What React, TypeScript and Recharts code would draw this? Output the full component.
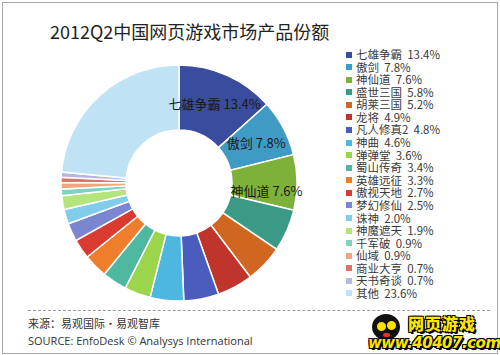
import React from 'react';
import { PieChart, Pie, Cell } from 'recharts';

const GAMES = [
  '七雄争霸', '傲剑', '神仙道', '盛世三国', '胡莱三国', '龙将', '凡人修真2', '神曲', '弹弹堂', '蜀山传奇',
  '英雄远征', '傲视天地', '梦幻修仙', '诛神', '神魔遮天', '千军破', '仙域', '商业大亨', '天书奇谈', '其他',
];

const SHARES = [13.4, 7.8, 7.6, 5.8, 5.2, 4.9, 4.8, 4.6, 3.6, 3.4, 3.3, 2.7, 2.5, 2.0, 1.9, 0.9, 0.9, 0.7, 0.7, 23.6];

const COLORS = [
  '#3a4c9e', '#3f9ac4', '#7db13a', '#3a9a86', '#d0661f', '#c0352b', '#4a5cbd', '#4db7e0', '#9bd54c', '#4fb8a0',
  '#ee7e2b', '#d93b31', '#7a86cf', '#80cdeb', '#b4e47c', '#80d2be', '#f3a47d', '#e3716b', '#b6b8df', '#bfe3f5',
];

// only the three biggest slices carry a label inside the ring
const LABELLED = 3;

const FONT = '"Noto Sans CJK SC", "Noto Sans", sans-serif';

const data = GAMES.map((name, i) => ({ name, value: SHARES[i] }));

const RADIAN = Math.PI / 180;

function renderLabel(props: any) {
  const { cx, cy, midAngle, innerRadius, outerRadius, index } = props;
  if (index >= LABELLED) return null;
  const r = (innerRadius + outerRadius) / 2 + 2;
  const x = cx + r * Math.cos(-midAngle * RADIAN);
  const y = cy + r * Math.sin(-midAngle * RADIAN) + (index === 2 ? 8 : 0);
  return (
    <text x={x} y={y} fill="#1a1a1a" fontSize={13} fontFamily={FONT} textAnchor="middle" dominantBaseline="central">
      {`${GAMES[index]}  ${SHARES[index].toFixed(1)}%`}
    </text>
  );
}

function Logo() {
  return (
    <div style={{ position: 'absolute', left: 366, top: 312, width: 128, height: 42 }}>
      <div style={{ position: 'absolute', left: 6, top: 2, width: 28, height: 26, borderRadius: '50%', background: '#111' }}>
        <div style={{ position: 'absolute', left: 4, top: 7, width: 9, height: 9, borderRadius: '50%', background: '#ffe100', border: '1px solid #000' }} />
        <div style={{ position: 'absolute', left: 14, top: 6, width: 9, height: 9, borderRadius: '50%', background: '#ffe100', border: '1px solid #000' }} />
        <div style={{ position: 'absolute', left: 11, top: 19, width: 7, height: 4, borderRadius: 3, background: '#e0352b' }} />
      </div>
      <div
        style={{
          position: 'absolute', left: 42, top: 2, fontSize: 16, fontWeight: 900, color: '#ffe600',
          fontFamily: FONT, letterSpacing: 1, lineHeight: '18px',
          textShadow: '-1px -1px 0 #000, 1px -1px 0 #000, -1px 1px 0 #000, 1px 1px 0 #000, 2px 2px 0 #000',
        }}
      >
        网页游戏
      </div>
      <div
        style={{
          position: 'absolute', left: 2, top: 22, fontSize: 15, fontWeight: 900, fontStyle: 'italic', color: '#ffe600',
          fontFamily: '"DejaVu Sans", sans-serif', letterSpacing: -0.5, lineHeight: '18px',
          textShadow: '-1px -1px 0 #000, 1px -1px 0 #000, -1px 1px 0 #000, 1px 1px 0 #000, 2px 2px 0 #000',
        }}
      >
        www.40407.com
      </div>
    </div>
  );
}

export default function App() {
  return (
    <div style={{ position: 'absolute', left: 0, top: 0, width: 500, height: 355, background: '#fff', fontFamily: FONT, overflow: 'hidden' }}>
      <div style={{ position: 'absolute', left: 2, top: 2, width: 494, height: 350, border: '1px solid #a8a8a8' }} />

      <div style={{ position: 'absolute', left: 50, top: 19, fontSize: 18, color: '#222', lineHeight: '24px', whiteSpace: 'nowrap' }}>
        2012Q2中国网页游戏市场产品份额
      </div>

      <div style={{ position: 'absolute', left: 0, top: 0 }}>
        <PieChart width={340} height={310}>
          <Pie
            data={data}
            dataKey="value"
            nameKey="name"
            cx={174}
            cy={178}
            innerRadius={53}
            outerRadius={118}
            startAngle={90}
            endAngle={-270}
            stroke="#fff"
            strokeWidth={1.5}
            label={renderLabel}
            labelLine={false}
            isAnimationActive={false}
          >
            {data.map((d, i) => (
              <Cell key={d.name} fill={COLORS[i]} />
            ))}
          </Pie>
        </PieChart>
      </div>

      <div style={{ position: 'absolute', left: 346, top: 48 }}>
        {GAMES.map((g, i) => (
          <div key={g} style={{ position: 'relative', height: 12.58, fontSize: 11.5, color: '#3a3a3a', whiteSpace: 'pre' }}>
            <span style={{ position: 'absolute', left: 0, top: 3.5, width: 6, height: 6, background: COLORS[i] }} />
            <span style={{ position: 'absolute', left: 10, top: 0, display: 'block', height: 12.5, lineHeight: '12.5px', overflow: 'visible' }}>
              {`${g}  ${SHARES[i].toFixed(1)}%`}
            </span>
          </div>
        ))}
      </div>

      <div style={{ position: 'absolute', left: 28, top: 310, width: 462, borderTop: '1px dashed #9a9a9a' }} />

      <div style={{ position: 'absolute', left: 28, top: 315, fontSize: 11, color: '#333', lineHeight: '16px' }}>
        来源：易观国际·易观智库
      </div>
      <div style={{ position: 'absolute', left: 28, top: 333, fontSize: 11, color: '#333', lineHeight: '16px', fontFamily: '"Open Sans", "Noto Sans", sans-serif' }}>
        SOURCE: EnfoDesk © Analysys International
      </div>

      <Logo />
    </div>
  );
}
